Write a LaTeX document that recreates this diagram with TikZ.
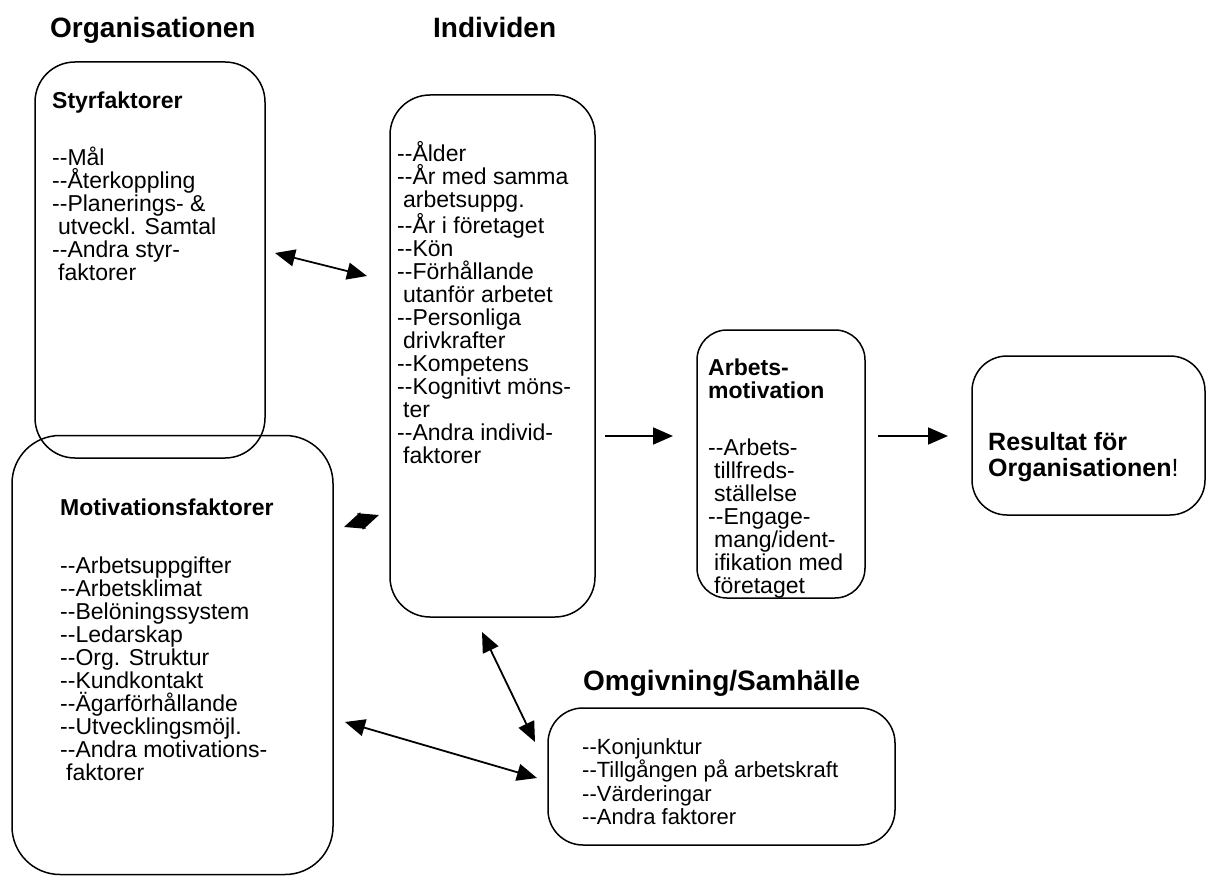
\documentclass[tikz,border=0pt]{standalone}
\usepackage{fontspec}
\setmainfont{Liberation Sans}
\usetikzlibrary{arrows.meta}
% two plain hyphens, kept apart so that they stay two hyphens
\newcommand\ddash{\mbox{-}\mbox{-}}
% fixed height of a first line, so that its baseline lies 22pt below the node's top
\newcommand\fl{\rule{0pt}{22pt}}
\begin{document}
\begin{tikzpicture}[x=1pt,y=-1pt,
  box/.style={draw, line width=1.5pt, rounded corners=#1, inner sep=0pt},
  head/.style={font={\fontsize{28}{30}\selectfont\bfseries}, inner sep=0pt, anchor=base west},
  txt/.style={font={\fontsize{23}{23}\selectfont}, align=left, inner sep=0pt, anchor=north west},
  ttl/.style={font={\fontsize{23}{23}\selectfont\bfseries}, align=left, inner sep=0pt, anchor=north west},
  big/.style={font={\fontsize{25}{26}\selectfont}, align=left, inner sep=0pt, anchor=north west},
  link/.style={line width=1.8pt},
  >={Triangle[length=20pt,width=17pt]}
]
\useasboundingbox (0,0) rectangle (1207,877);

% headings
\node[head] (hOrg) at (50,38) {Organisationen};
\node[head] (hInd) at (433,38) {Individen};
\node[head] (hOmg) at (583,690) {Omgivning/Samhälle};

% boxes
\node[box=40, minimum width=230, minimum height=396] (styr) at (150,260) {};
\node[box=48, minimum width=321, minimum height=439] (motiv) at (172.5,655) {};
\node[box=40, minimum width=205, minimum height=522] (ind) at (492.5,356) {};
\node[box=30, minimum width=168, minimum height=268] (arb) at (781,464) {};
\node[box=35, minimum width=233, minimum height=159] (res) at (1088.5,435.5) {};
\node[box=35, minimum width=347, minimum height=137] (omg) at (721.5,776.5) {};

% box contents (each node placed 22pt above its first baseline)
\node[ttl] (tStyr) at (52,86) {\fl Styrfaktorer};
\node[txt] (lStyr) at (52,143) {\fl\ddash Mål\\\ddash Återkoppling\\\ddash Planerings- \&\\\hspace*{6pt}utveckl. Samtal\\\ddash Andra styr-\\\hspace*{6pt}faktorer};

\node[ttl] (tMotiv) at (60,493) {\fl Motivationsfaktorer};
\node[txt] (lMotiv) at (60,551) {\fl\ddash Arbetsuppgifter\\\ddash Arbetsklimat\\\ddash Belöningssystem\\\ddash Ledarskap\\\ddash Org. Struktur\\\ddash Kundkontakt\\\ddash Ägarförhållande\\\ddash Utvecklingsmöjl.\\\ddash Andra motivations-\\\hspace*{6pt}faktorer};

\node[txt] (lInd) at (397,139) {\fl\ddash Ålder\\\ddash År med samma\\\hspace*{6pt}arbetsuppg.\\\ddash År i företaget\\\ddash Kön\\\ddash Förhållande\\\hspace*{6pt}utanför arbetet\\\ddash Personliga\\\hspace*{6pt}drivkrafter\\\ddash Kompetens\\\ddash Kognitivt möns-\\\hspace*{6pt}ter\\\ddash Andra individ-\\\hspace*{6pt}faktorer};

\node[ttl] (tArb) at (708,353) {\fl Arbets-\\motivation};
\node[txt] (lArb) at (708,433) {\fl\ddash Arbets-\\\hspace*{6pt}tillfreds-\\\hspace*{6pt}ställelse\\\ddash Engage-\\\hspace*{6pt}mang/ident-\\\hspace*{6pt}ifikation med\\\hspace*{6pt}företaget};

\node[big] (tRes) at (988,428) {\fl\textbf{Resultat för}\\\textbf{Organisationen}!};

\node[txt, font={\fontsize{22}{23.5}\selectfont}] (lOmg) at (582,732) {\fl\ddash Konjunktur\\\ddash Tillgången på arbetskraft\\\ddash Värderingar\\\ddash Andra faktorer};

% connector end points
\coordinate (s1) at (275,253);
\coordinate (i1) at (367,276);
\coordinate (m1) at (344,527);
\coordinate (i2) at (379,515);
\coordinate (i3) at (605,436);
\coordinate (a3) at (673,436);
\coordinate (a4) at (878,436);
\coordinate (r4) at (948,436);
\coordinate (i5) at (482,632);
\coordinate (o5) at (535,742);
\coordinate (m6) at (345,722);
\coordinate (o6) at (537,778);

% connectors
\draw[link,<->] (s1) -- (i1);
\draw[link,<->] (m1) -- (i2);
\draw[link,->] (i3) -- (a3);
\draw[link,->] (a4) -- (r4);
\draw[link,<->] (i5) -- (o5);
\draw[link,<->] (m6) -- (o6);
\end{tikzpicture}
\end{document}
